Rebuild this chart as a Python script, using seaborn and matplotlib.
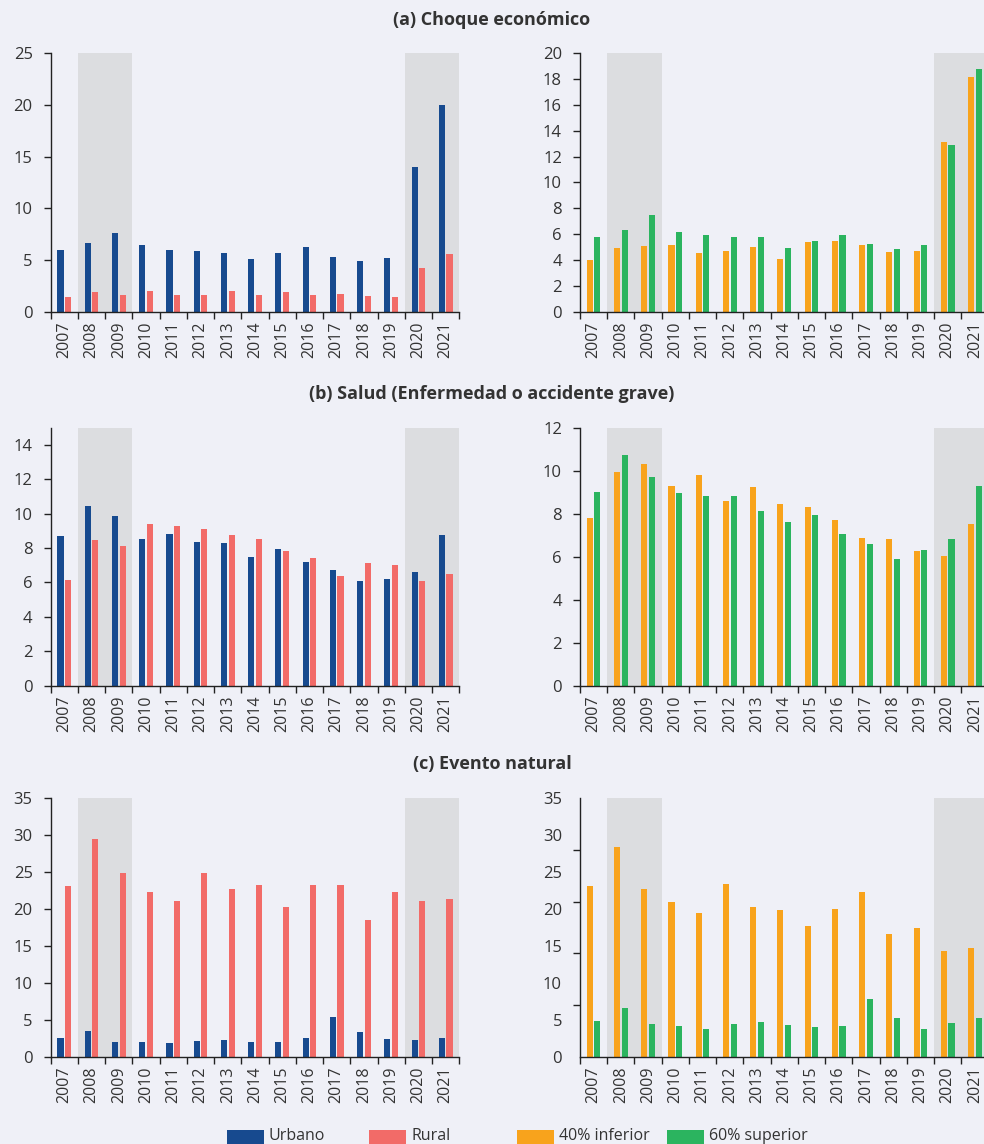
import numpy as np
import pandas as pd
import matplotlib
matplotlib.use("Agg")
import matplotlib.pyplot as plt
from matplotlib.patches import Rectangle
from matplotlib.ticker import FixedLocator, NullFormatter
import seaborn as sns

# ---------------- data ----------------
years = [str(y) for y in range(2007, 2022)]

# (a) Choque económico
a_urbano = [6.0, 6.6, 7.6, 6.4, 6.0, 5.9, 5.7, 5.1, 5.7, 6.3, 5.3, 4.85, 5.15, 14.0, 19.95]
a_rural = [1.4, 1.9, 1.6, 1.95, 1.65, 1.6, 1.95, 1.65, 1.9, 1.6, 1.7, 1.5, 1.45, 4.2, 5.55]
a_inf40 = [4.0, 4.9, 5.05, 5.15, 4.5, 4.7, 5.0, 4.1, 5.4, 5.45, 5.15, 4.6, 4.7, 13.15, 18.2]
a_sup60 = [5.8, 6.3, 7.5, 6.2, 5.95, 5.75, 5.8, 4.95, 5.45, 5.95, 5.25, 4.85, 5.15, 12.9, 18.8]

# (b) Salud (Enfermedad o accidente grave)
b_urbano = [8.7, 10.45, 9.85, 8.55, 8.8, 8.35, 8.3, 7.5, 7.95, 7.2, 6.7, 6.1, 6.2, 6.6, 8.75]
b_rural = [6.15, 8.45, 8.1, 9.4, 9.25, 9.1, 8.75, 8.5, 7.8, 7.4, 6.4, 7.15, 7.0, 6.1, 6.5]
b_inf40 = [7.8, 9.95, 10.3, 9.3, 9.8, 8.6, 9.25, 8.45, 8.3, 7.7, 6.85, 6.8, 6.25, 6.05, 7.5]
b_sup60 = [9.0, 10.7, 9.7, 8.95, 8.8, 8.8, 8.1, 7.6, 7.95, 7.05, 6.6, 5.9, 6.3, 6.8, 9.3]

# (c) Evento natural
c_urbano = [2.6, 3.45, 1.95, 2.05, 1.9, 2.15, 2.25, 2.05, 2.05, 2.6, 5.35, 3.35, 2.4, 2.2, 2.55]
c_rural = [23.15, 29.5, 24.85, 22.25, 21.05, 24.9, 22.75, 23.25, 20.3, 23.25, 23.25, 18.55, 22.3, 21.1, 21.4]
c_inf40 = [23.15, 28.35, 22.7, 20.9, 19.45, 23.35, 20.3, 19.9, 17.65, 19.95, 22.3, 16.65, 17.45, 14.35, 14.7]
c_sup60 = [4.8, 6.6, 4.45, 4.15, 3.75, 4.4, 4.7, 4.3, 4.0, 4.15, 7.8, 5.2, 3.75, 4.55, 5.25]

titles = ["(a) Choque económico", "(b) Salud (Enfermedad o accidente grave)", "(c) Evento natural"]
area_labels = ["Urbano", "Rural"]
income_labels = ["40% inferior", "60% superior"]

# ---------------- style ----------------
BG = "#EFF0F7"
BAND = "#DCDDE0"
TXT = "#333333"
AX = "#222222"
BLUE, RED, ORANGE, GREEN = "#174A8F", "#F26B68", "#F8A31C", "#2BB45F"

sns.set_style("ticks")
plt.rcParams["font.family"] = ["Open Sans", "DejaVu Sans"]
plt.rcParams["text.color"] = TXT
plt.rcParams["xtick.color"] = AX
plt.rcParams["ytick.color"] = AX

fig = plt.figure(figsize=(9.84, 11.44), dpi=100, facecolor=BG)

W, H = 984.0, 1144.0
rows_px = [(53.3, 311.6), (427.5, 685.7), (798.3, 1056.7)]
left_x = (50.7, 459.3)
right_x = (580.0, 988.5)


def make_ax(xpx, ypx):
    x0, x1 = xpx
    t, b = ypx
    return fig.add_axes([x0 / W, 1 - b / H, (x1 - x0) / W, (b - t) / H])


def draw(ax, v1, v2, labels, colors, ymax, yticks, odd_ticks=None):
    df = pd.DataFrame({
        "year": years * 2,
        "value": list(v1) + list(v2),
        "group": [labels[0]] * len(years) + [labels[1]] * len(years),
    })
    ax.set_facecolor("none")
    ax.axvspan(0.5, 2.5, color=BAND, zorder=0, lw=0)
    ax.axvspan(12.5, 14.5, color=BAND, zorder=0, lw=0)
    sns.barplot(data=df, x="year", y="value", hue="group", order=years,
                hue_order=labels, palette=colors, width=0.56, gap=0.2,
                saturation=1, legend=False, ax=ax, linewidth=0, zorder=2)
    ax.set_xlim(-0.5, 14.5)
    ax.set_ylim(0, ymax)
    ax.set_xlabel("")
    ax.set_ylabel("")
    for s in ["top", "right"]:
        ax.spines[s].set_visible(False)
    for s in ["left", "bottom"]:
        ax.spines[s].set_color(AX)
        ax.spines[s].set_linewidth(1.0)
    # x: labels at centres, ticks at boundaries
    ax.set_xticks(range(len(years)))
    ax.set_xticklabels(years, rotation=90, fontsize=11.5, color=TXT)
    ax.xaxis.set_minor_locator(FixedLocator(np.arange(-0.5, 15, 1.0)))
    ax.tick_params(axis="x", which="major", length=0, pad=7)
    ax.tick_params(axis="x", which="minor", length=5, width=1, color=AX)
    # y
    ax.set_yticks(yticks)
    ax.set_yticklabels([f"{int(v)}" for v in yticks], fontsize=12, color=TXT)
    if odd_ticks is None:
        ax.tick_params(axis="y", which="major", length=5, width=1, pad=8)
    else:
        ax.tick_params(axis="y", which="major", length=0, pad=13)
        ax.yaxis.set_minor_locator(FixedLocator(np.arange(0, ymax + 0.001, odd_ticks)))
        ax.yaxis.set_minor_formatter(NullFormatter())
        ax.tick_params(axis="y", which="minor", length=5, width=1, color=AX)


panels = [
    (a_urbano, a_rural, a_inf40, a_sup60,
     (25, np.arange(0, 26, 5)), (20, np.arange(0, 21, 2)), None),
    (b_urbano, b_rural, b_inf40, b_sup60,
     (15, np.arange(0, 15, 2)), (12, np.arange(0, 13, 2)), None),
    (c_urbano, c_rural, c_inf40, c_sup60,
     (35, np.arange(0, 36, 5)), (35, np.arange(0, 36, 5)), 7),
]

for i, (u, r, lo, hi, lim_l, lim_r, odd) in enumerate(panels):
    axl = make_ax(left_x, rows_px[i])
    draw(axl, u, r, area_labels, [BLUE, RED], lim_l[0], lim_l[1])
    axr = make_ax(right_x, rows_px[i])
    draw(axr, lo, hi, income_labels, [ORANGE, GREEN], lim_r[0], lim_r[1], odd_ticks=odd)

title_y = [20, 394, 764]
for t, y in zip(titles, title_y):
    fig.text(492 / W, 1 - y / H, t, ha="center", va="center",
             fontsize=13, fontweight="bold", color=TXT)

# legend (four positioned items)
leg_items = [("Urbano", BLUE, 226.7, 269), ("Rural", RED, 369, 411.7),
             ("40% inferior", ORANGE, 516.7, 559), ("60% superior", GREEN, 666.8, 709)]
for lab, col, xp, xt in leg_items:
    fig.patches.append(Rectangle((xp / W, 0.0), 37.3 / W, (1144 - 1130) / H,
                                 transform=fig.transFigure, facecolor=col,
                                 edgecolor="none", figure=fig))
    fig.text(xt / W, 1 - 1140.5 / H, lab, ha="left", va="baseline",
             fontsize=11.5, color=TXT)

fig.savefig("out.png", dpi=100, facecolor=BG)
